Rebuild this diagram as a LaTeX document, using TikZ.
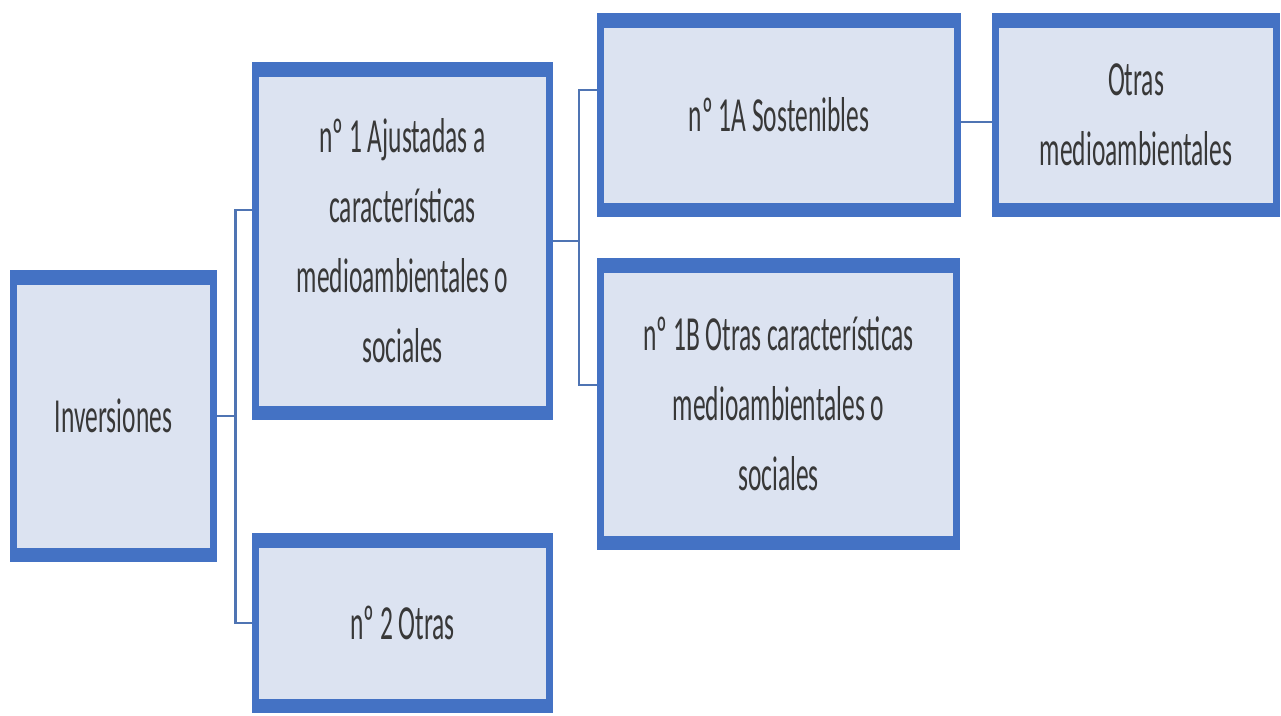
\documentclass[tikz,border=0pt]{standalone}
\usepackage{fontspec}
\setmainfont{Carlito}[FakeStretch=0.52]
\definecolor{borde}{HTML}{4472C4}
\definecolor{relleno}{HTML}{DCE3F1}
\definecolor{linea}{HTML}{4F74B3}
\definecolor{texto}{HTML}{383838}
\tikzset{
  caja/.style={draw=borde, line width=7pt, fill=relleno, inner sep=0pt, align=center,
    text=texto, font=\fontsize{49}{70}\selectfont,
    path picture={
      \fill[borde] (path picture bounding box.north west) rectangle ([yshift=-11pt]path picture bounding box.north east);
      \fill[borde] (path picture bounding box.south west) rectangle ([yshift=11pt]path picture bounding box.south east);}},
  conector/.style={draw=linea, line width=2.5pt}
}
\begin{document}
\begin{tikzpicture}[x=1pt,y=-1pt]
    \useasboundingbox (0,0) rectangle (1281,715);
    \node [caja, minimum width=200pt, minimum height=285pt] (Inversiones) at (113.5,416) {Inversiones};
    \node [caja, minimum width=294pt, minimum height=351pt] (Ajustadas) at (402.5,241) {nº 1 Ajustadas a\\características\\medioambientales o\\sociales};
    \node [caja, minimum width=294pt, minimum height=173pt] (OtrasDos) at (402.5,623) {nº 2 Otras};
    \node [caja, minimum width=357pt, minimum height=197pt] (Sostenibles) at (779,115) {nº 1A Sostenibles};
    \node [caja, minimum width=356pt, minimum height=285pt] (OtrasCaract) at (778.5,404) {nº 1B Otras características\\medioambientales o\\sociales};
    \node [caja, minimum width=281pt, minimum height=197pt] (OtrasMedio) at (1136,115) {Otras\\medioambientales};

    \draw [conector] (Inversiones.east) -- ++(18.5,0) |- ([yshift=31pt]Ajustadas.west);
    \draw [conector] (Inversiones.east) -- ++(18.5,0) |- (OtrasDos.west);
    \draw [conector] (Ajustadas.east) -- ++(26,0) |- ([yshift=25pt]Sostenibles.west);
    \draw [conector] (Ajustadas.east) -- ++(26,0) |- ([yshift=19pt]OtrasCaract.west);
    \draw [conector] ([yshift=-7pt]Sostenibles.east) -- ([yshift=-7pt]OtrasMedio.west);
\end{tikzpicture}
\end{document}
